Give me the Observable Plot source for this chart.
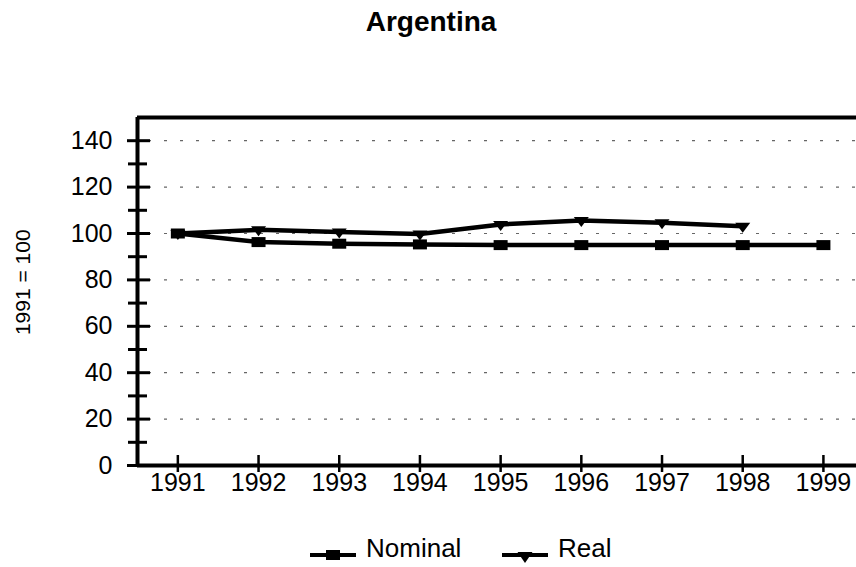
<!DOCTYPE html>
<html><head><meta charset="utf-8">
<script src="https://cdn.jsdelivr.net/npm/d3@7"></script>
<script src="https://cdn.jsdelivr.net/npm/@observablehq/plot@0.6"></script>
<style>
body{margin:0;background:#fff;font-family:"Liberation Sans",Arial,sans-serif;color:#000;}
#wrap{position:relative;width:856px;height:567px;overflow:hidden;}
#title{position:absolute;left:0;top:0;width:856px;height:44px;line-height:44px;text-align:center;font-weight:bold;font-size:28px;padding-left:6px;box-sizing:border-box;}
#chart{position:absolute;left:0;top:60px;}
#legend{position:absolute;left:0;top:505px;width:856px;height:86px;}
.lg{position:absolute;top:0;height:86px;display:flex;align-items:center;}
.lg svg{display:block;}
.lg span{font-size:26px;margin-left:10px;line-height:1;}
</style></head><body>
<div id="wrap"><div id="title"></div><div id="chart"></div><div id="legend"></div></div>
<script>
const title = "Argentina";
const yLabel = "1991 = 100";
const years = [1991, 1992, 1993, 1994, 1995, 1996, 1997, 1998, 1999];
const nominal = [100, 96.3, 95.6, 95.3, 95, 95, 95, 95, 95];
const realYears = [1991, 1992, 1993, 1994, 1995, 1996, 1997, 1998];
const real = [100, 101.6, 100.6, 99.8, 103.9, 105.6, 104.6, 103.1];
const yTicks = [0, 20, 40, 60, 80, 100, 120, 140];
const yMinorTicks = [10, 30, 50, 70, 90, 110, 130];
const gridTicks = [20, 40, 60, 80, 100, 120, 140];
const seriesNames = ["Nominal", "Real"];
const xDomain = [1990.5, 1999.41];
const yDomain = [0, 150];

const W = 856, H = 445, mL = 137, mR = 0, mT = 57, mB = 40;
const innerW = W - mL - mR, innerH = H - mT - mB;

const nomData = years.map((x, i) => ({x, y: nominal[i]}));
const realData = realYears.map((x, i) => ({x, y: real[i]}));

const squareSym = {draw(ctx) { ctx.rect(-7, -5, 14, 10); }};
const triSym = {draw(ctx) { ctx.moveTo(-7.5, -3.5); ctx.lineTo(7.5, -3.5); ctx.lineTo(0, 6.5); ctx.closePath(); }};

document.getElementById("title").textContent = title;

const chart = Plot.plot({
  width: W, height: H,
  marginLeft: mL, marginRight: mR, marginTop: mT, marginBottom: mB,
  style: {fontFamily: "'Liberation Sans', Arial, sans-serif", color: "#000", background: "#fff", overflow: "visible"},
  x: {type: "linear", domain: xDomain, label: null},
  y: {domain: yDomain, label: null},
  marks: [
    Plot.ruleY(gridTicks, {stroke: "#666", strokeWidth: 1.2, strokeDasharray: "3,13", insetLeft: 11}),
    Plot.ruleY(yTicks, {dx: -10, insetRight: innerW - 23, strokeWidth: 3, stroke: "#000"}),
    Plot.ruleY(yMinorTicks, {dx: -9, insetRight: innerW - 19, strokeWidth: 3, stroke: "#000"}),
    Plot.ruleX(years, {dy: 7, insetTop: innerH - 17, strokeWidth: 2.5, stroke: "#000"}),
    Plot.ruleX([xDomain[0]], {strokeWidth: 4, stroke: "#000"}),
    Plot.ruleY([yDomain[0]], {strokeWidth: 4, stroke: "#000"}),
    Plot.ruleY([yDomain[1]], {strokeWidth: 4, stroke: "#000"}),
    Plot.axisY(yTicks, {tickSize: 0, tickPadding: 25, fontSize: 25, label: null}),
    Plot.axisX(years, {tickSize: 0, tickPadding: 8, fontSize: 25, label: null, tickFormat: d => String(d)}),
    Plot.text([yLabel], {text: d => d, y: () => 79, frameAnchor: "left", dx: -114, rotate: -90, fontSize: 21, textAnchor: "middle", lineAnchor: "middle"}),
    Plot.line(nomData, {x: "x", y: "y", stroke: "#000", strokeWidth: 4.5}),
    Plot.line(realData, {x: "x", y: "y", stroke: "#000", strokeWidth: 4.5}),
    Plot.dot(nomData, {x: "x", y: "y", symbol: squareSym, fill: "#000", stroke: null}),
    Plot.dot(realData, {x: "x", y: "y", symbol: triSym, fill: "#000", stroke: null})
  ]
});
document.getElementById("chart").appendChild(chart);

// legend
const legend = document.getElementById("legend");
const lgPos = [310, 502];
const lgSyms = [
  '<rect x="16" y="17" width="14" height="10" fill="#000"/>',
  '<path d="M15.5,19 L30.5,19 L23,30 Z" fill="#000"/>'
];
seriesNames.forEach((name, i) => {
  const d = document.createElement("div");
  d.className = "lg";
  d.style.left = lgPos[i] + "px";
  d.innerHTML = `<svg width="46" height="30"><line x1="0" x2="46" y1="22" y2="22" stroke="#000" stroke-width="4"/>${lgSyms[i]}</svg><span>${name}</span>`;
  legend.appendChild(d);
});
</script>
</body></html>
